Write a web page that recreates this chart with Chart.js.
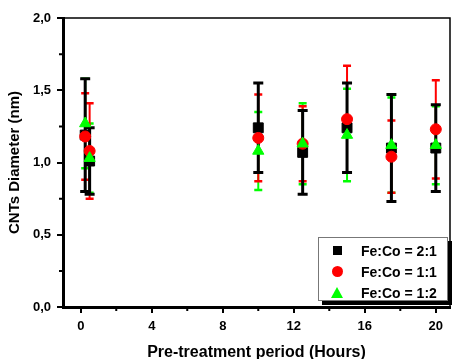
<!DOCTYPE html>
<html>
<head>
<meta charset="utf-8">
<script src="https://cdn.jsdelivr.net/npm/chart.js@4/dist/chart.umd.min.js"></script>
<style>
  html, body { margin: 0; padding: 0; background: #fff; }
  #wrap { position: relative; width: 458px; height: 359px; }
  #legend {
    position: absolute; left: 318px; top: 237px; width: 128px; height: 62px;
    border: 1px solid #777; background: #fff; box-shadow: 4px 4px 0 #000;
    font: bold 14px 'Liberation Sans', Arial, sans-serif; color: #000;
  }
  .row { position: absolute; left: 0; width: 100%; height: 20px; line-height: 20px; }
  .row span { position: absolute; left: 42px; top: 0; white-space: nowrap; }
  .mk { position: absolute; }
  .mk.rect { width: 9px; height: 9px; background: #000; left: 14px; top: 5px; }
  .mk.circle { width: 11px; height: 11px; border-radius: 50%; background: #ff0000; left: 13px; top: 4px; }
  .mk.triangle { width: 0; height: 0; border-left: 6px solid transparent; border-right: 6px solid transparent;
                 border-bottom: 11px solid #00ff00; left: 12px; top: 4px; }
</style>
</head>
<body>
<div id="wrap">
  <canvas id="cnt" width="458" height="359"></canvas>
  <div id="legend"></div>
</div>
<script>
// pre-treatment period (hours)
const hours = [0.25, 0.5, 10, 12.5, 15, 17.5, 20];

// mean diameter (nm) and error for each Fe:Co ratio
const diam21 = [1.19, 1.01, 1.24, 1.07, 1.24, 1.10, 1.10];
const err21  = [0.39, 0.23, 0.31, 0.29, 0.31, 0.37, 0.30];
const diam11 = [1.18, 1.08, 1.17, 1.13, 1.30, 1.04, 1.23];
const err11  = [0.30, 0.33, 0.30, 0.26, 0.37, 0.25, 0.34];
const diam12 = [1.27, 1.03, 1.08, 1.13, 1.19, 1.12, 1.12];
const err12  = [0.31, 0.24, 0.27, 0.28, 0.32, 0.33, 0.27];

const seriesNames = ['Fe:Co = 2:1', 'Fe:Co = 1:1', 'Fe:Co = 1:2'];
const seriesColors = ['#000000', '#ff0000', '#00ff00'];
const seriesShapes = ['rect', 'circle', 'triangle'];

const xTickValues = [0, 4, 8, 12, 16, 20];
const xMinorValues = [2, 6, 10, 14, 18];
const yTickValues = [0, 0.5, 1.0, 1.5, 2.0];
const yMinorValues = [0.25, 0.75, 1.25, 1.75];

const FONT = "'Liberation Sans', Arial, sans-serif";

function pts(ys) {
  return hours.map((h, i) => ({ x: h, y: ys[i] }));
}

// vertical error bars, all under the markers; black bars on top of the coloured ones
const errorBars = {
  id: 'errorBars',
  beforeDatasetsDraw(chart) {
    const y = chart.scales.y;
    const ctx = chart.ctx;
    ctx.save();
    ctx.lineCap = 'butt';
    for (let d = chart.data.datasets.length - 1; d >= 0; d--) {
      const ds = chart.data.datasets[d];
      const meta = chart.getDatasetMeta(d);
      const half = ds.capHalf;
      ctx.strokeStyle = ds.borderColor;
      meta.data.forEach((el, i) => {
        const v = ds.data[i].y, e = ds.errors[i];
        const top = y.getPixelForValue(v + e), bot = y.getPixelForValue(v - e);
        ctx.lineWidth = ds.barWidth;
        ctx.beginPath();
        ctx.moveTo(el.x, top); ctx.lineTo(el.x, bot);
        ctx.stroke();
        ctx.lineWidth = ds.capThick;
        ctx.beginPath();
        ctx.moveTo(el.x - half, top); ctx.lineTo(el.x + half, top);
        ctx.moveTo(el.x - half, bot); ctx.lineTo(el.x + half, bot);
        ctx.stroke();
      });
    }
    ctx.restore();
  }
};

// top/right frame and minor ticks
const frame = {
  id: 'frame',
  afterDraw(chart) {
    const { ctx, chartArea: a, scales } = chart;
    ctx.save();
    ctx.strokeStyle = '#000';
    ctx.lineWidth = 1.5;
    ctx.beginPath();
    ctx.moveTo(a.left, a.top); ctx.lineTo(a.right, a.top); ctx.lineTo(a.right, a.bottom);
    ctx.stroke();
    ctx.lineWidth = 2;
    ctx.beginPath();
    xMinorValues.forEach(v => {
      const px = scales.x.getPixelForValue(v);
      ctx.moveTo(px, a.bottom); ctx.lineTo(px, a.bottom + 4);
    });
    yMinorValues.forEach(v => {
      const py = scales.y.getPixelForValue(v);
      ctx.moveTo(a.left - 4, py); ctx.lineTo(a.left, py);
    });
    ctx.stroke();
    ctx.restore();
  }
};

const series = [
  { data: pts(diam21), errors: err21, radius: 7, order: 3, barWidth: 3, capHalf: 5, capThick: 3 },
  { data: pts(diam11), errors: err11, radius: 5.5, order: 2, barWidth: 2, capHalf: 4, capThick: 2.5 },
  { data: pts(diam12), errors: err12, radius: 6.5, order: 1, barWidth: 2, capHalf: 4, capThick: 2.5 }
];

new Chart(document.getElementById('cnt'), {
  type: 'scatter',
  data: {
    datasets: series.map((s, i) => ({
      label: seriesNames[i],
      data: s.data,
      errors: s.errors,
      barWidth: s.barWidth,
      capHalf: s.capHalf,
      capThick: s.capThick,
      order: s.order,
      showLine: false,
      pointStyle: seriesShapes[i],
      pointRadius: s.radius,
      pointBackgroundColor: seriesColors[i],
      pointBorderColor: seriesColors[i],
      pointBorderWidth: 1,
      borderColor: seriesColors[i],
      backgroundColor: seriesColors[i]
    }))
  },
  options: {
    responsive: false,
    animation: false,
    devicePixelRatio: 1,
    layout: { padding: { top: 18, right: 2, left: 0, bottom: 0 } },
    plugins: { legend: { display: false }, tooltip: { enabled: false } },
    scales: {
      x: {
        type: 'linear', min: -1, max: 20.8,
        afterFit(s) { s.height = 52; },
        afterBuildTicks(s) { s.ticks = xTickValues.map(v => ({ value: v })); },
        ticks: { color: '#000', font: { family: FONT, size: 13, weight: 'bold' }, padding: 6, maxRotation: 0 },
        grid: { drawOnChartArea: false, tickLength: 6, lineWidth: 2, tickWidth: 2, tickColor: '#000' },
        border: { color: '#000', width: 3 },
        title: { display: true, text: 'Pre-treatment period (Hours)', color: '#000',
                 font: { family: FONT, size: 16, weight: 'bold', lineHeight: 1.1 }, padding: { top: 0, bottom: -2 } }
      },
      y: {
        type: 'linear', min: 0, max: 2,
        afterFit(s) { s.width = 63; },
        afterBuildTicks(s) { s.ticks = yTickValues.map(v => ({ value: v })); },
        ticks: { color: '#000', font: { family: FONT, size: 13, weight: 'bold' }, padding: 6,
                 callback: v => v.toFixed(1).replace('.', ',') },
        grid: { drawOnChartArea: false, tickLength: 6, lineWidth: 2, tickWidth: 2, tickColor: '#000' },
        border: { color: '#000', width: 3 },
        title: { display: true, text: 'CNTs Diameter (nm)', color: '#000',
                 font: { family: FONT, size: 15, weight: 'bold', lineHeight: 1.1 }, padding: { top: 7, bottom: 0 } }
      }
    }
  },
  plugins: [errorBars, frame]
});

// legend box
const legend = document.getElementById('legend');
seriesNames.forEach((name, i) => {
  const row = document.createElement('div');
  row.className = 'row';
  row.style.top = (3 + i * 21) + 'px';
  const mk = document.createElement('div');
  mk.className = 'mk ' + seriesShapes[i];
  const txt = document.createElement('span');
  txt.textContent = name;
  row.appendChild(mk);
  row.appendChild(txt);
  legend.appendChild(row);
});
</script>
</body>
</html>
